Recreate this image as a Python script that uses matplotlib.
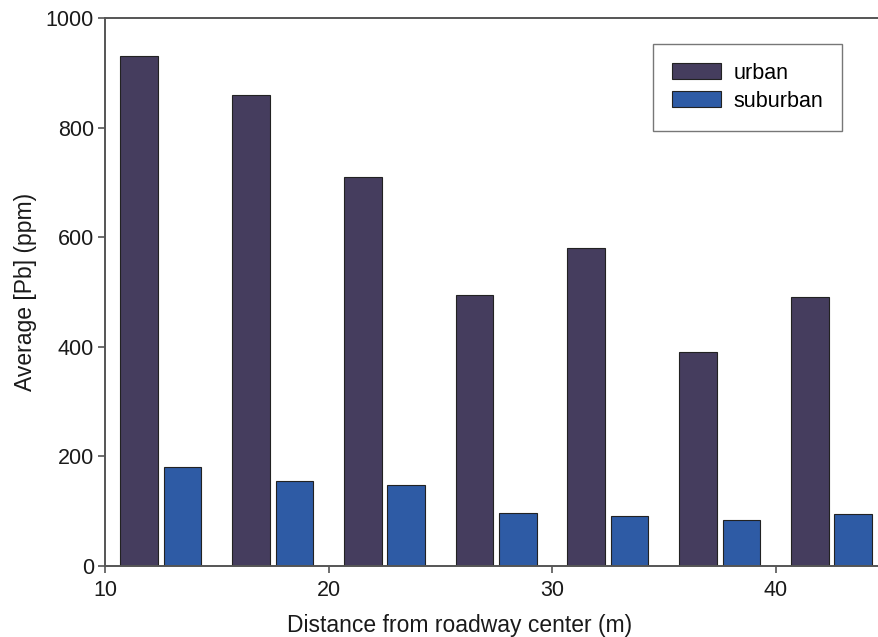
import numpy as np
import matplotlib
matplotlib.use('Agg')
from matplotlib import pyplot as plt

plt.rcParams['font.family'] = ['Liberation Sans', 'DejaVu Sans']

# distance groups (m) and average lead concentrations (ppm)
distance = [12.5, 17.5, 22.5, 27.5, 32.5, 37.5, 42.5]
urban = [930, 860, 710, 495, 580, 390, 490]
suburban = [180, 155, 148, 96, 92, 84, 94]

urban_color = '#453d5e'
suburban_color = '#2e5ba5'

fig = plt.figure(figsize=(8.79, 6.37), dpi=100)
# axes runs slightly past the right edge, as in the original
ax = fig.add_axes([0.1195, 0.1115, 0.890, 0.8603])

x = np.array(distance)
bar_w = 1.68
ax.bar(x - 0.97, urban, width=bar_w, color=urban_color, edgecolor='#222222',
       linewidth=0.8, label='urban')
ax.bar(x + 0.97, suburban, width=bar_w, color=suburban_color, edgecolor='#222222',
       linewidth=0.8, label='suburban')

ax.set_xlim(10, 45)
ax.set_ylim(0, 1000)
ax.set_xticks([10, 20, 30, 40])
ax.set_yticks([0, 200, 400, 600, 800, 1000])

for side in ['left', 'bottom', 'top', 'right']:
    ax.spines[side].set_color('#555555')
    ax.spines[side].set_linewidth(1.4)

ax.tick_params(direction='out', length=5, width=1.2, color='#555555',
               labelsize=15.5, labelcolor='#1a1a1a')
ax.tick_params(axis='x', pad=5)
ax.tick_params(axis='y', pad=3)

ax.set_xlabel('Distance from roadway center (m)', fontsize=16.5, color='#1a1a1a')
ax.xaxis.set_label_coords(0.453, -0.087)
ax.set_ylabel('Average [Pb] (ppm)', fontsize=16.5, color='#1a1a1a', labelpad=6)

leg = ax.legend(loc='upper right', bbox_to_anchor=(0.942, 0.9526), fontsize=15.5,
                frameon=True, fancybox=False, handlelength=2.3, handleheight=0.75,
                handletextpad=0.55, labelspacing=0.32, borderpad=0.88,
                borderaxespad=0)
leg.get_frame().set_edgecolor('#555555')
leg.get_frame().set_linewidth(1.0)

plt.savefig('out.png', dpi=100)
